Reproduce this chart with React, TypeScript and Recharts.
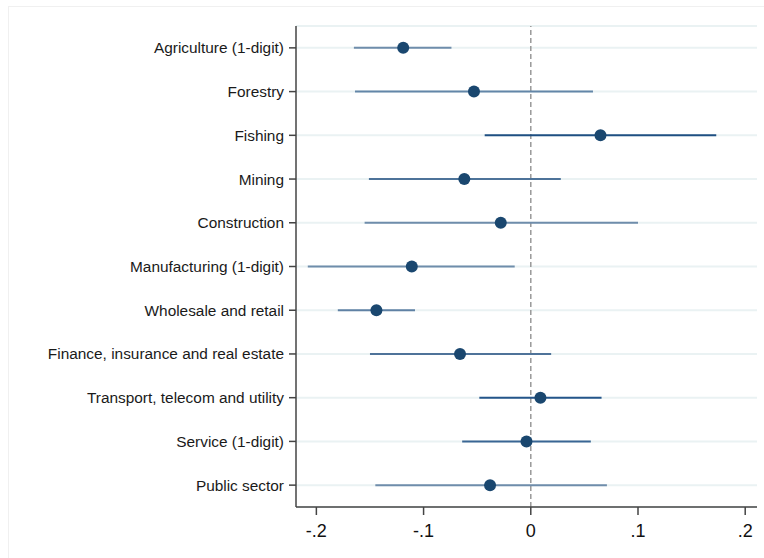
import React from "react";
import {
  ScatterChart,
  Scatter,
  XAxis,
  YAxis,
  CartesianGrid,
  ReferenceLine,
} from "recharts";

// Industry categories, top to bottom
const industries = [
  "Agriculture (1-digit)",
  "Forestry",
  "Fishing",
  "Mining",
  "Construction",
  "Manufacturing (1-digit)",
  "Wholesale and retail",
  "Finance, insurance and real estate",
  "Transport, telecom and utility",
  "Service (1-digit)",
  "Public sector",
];

// Point estimates
const estimates = [-0.119, -0.053, 0.065, -0.062, -0.028, -0.111, -0.144, -0.066, 0.009, -0.004, -0.038];

// Lower and upper confidence bounds
const lowerBounds = [-0.165, -0.164, -0.043, -0.151, -0.155, -0.208, -0.18, -0.15, -0.048, -0.064, -0.145];
const upperBounds = [-0.074, 0.058, 0.173, 0.028, 0.1, -0.015, -0.108, 0.019, 0.066, 0.056, 0.071];

const xTicks = [-0.2, -0.1, 0, 0.1, 0.2];
const xTickLabels = ["-.2", "-.1", "0", ".1", ".2"];

// Shade of each confidence interval line
const CI_COLORS = [
  "#6f8dab",
  "#6386a8",
  "#1f4f82",
  "#4d7399",
  "#6f8dab",
  "#6f8dab",
  "#5f81a4",
  "#4f7399",
  "#24558a",
  "#3a6694",
  "#6f8dab",
];

const MARKER = "#1a476f";
const FONT = "Liberation Sans, Arial, sans-serif";

const points = industries.map((name, i) => ({
  name,
  y: i + 1,
  x: estimates[i],
}));

const intervals = industries.map((_, i) => [
  { x: lowerBounds[i], y: i + 1 },
  { x: upperBounds[i], y: i + 1 },
]);

const Dot = (props: any) => {
  const { cx, cy } = props;
  if (cx == null || cy == null) return null;
  return <circle cx={cx} cy={cy} r={6} fill={MARKER} />;
};

const NoShape = () => null;

export default function App() {
  return (
    <div style={{ position: "absolute", left: 0, top: 0, width: 764, height: 558, background: "#fff" }}>
      <div
        style={{
          position: "absolute",
          left: 8,
          top: 6,
          width: 760,
          height: 560,
          border: "1px solid #f0f0f0",
          boxSizing: "border-box",
        }}
      />
      <div style={{ position: "absolute", left: 0, top: 0 }}>
        <ScatterChart
          width={764}
          height={558}
          margin={{ top: 26, right: 7, bottom: 0, left: 0 }}
        >
          <CartesianGrid
            vertical={false}
            stroke="#eaf2f3"
            strokeWidth={2}
          />
          <XAxis
            type="number"
            dataKey="x"
            domain={[-0.219, 0.211]}
            ticks={xTicks}
            tickFormatter={(v: number) => xTickLabels[xTicks.indexOf(v)] ?? String(v)}
            height={51}
            tickSize={8}
            tickMargin={9}
            stroke="#444"
            strokeWidth={1.5}
            tick={{ fill: "#111", fontSize: 18, fontFamily: FONT }}
            allowDataOverflow
          />
          <YAxis
            type="number"
            dataKey="y"
            domain={[0.5, 11.5]}
            reversed
            ticks={industries.map((_, i) => i + 1)}
            interval={0}
            tickFormatter={(v: number) => industries[v - 1] ?? ""}
            width={296}
            tickSize={7}
            tickMargin={5}
            stroke="#444"
            strokeWidth={1.5}
            tick={{ fill: "#1a1a1a", fontSize: 15.4, fontFamily: FONT }}
            allowDataOverflow
          />
          <ReferenceLine
            x={0}
            stroke="#999"
            strokeWidth={1.5}
            strokeDasharray="5 3"
          />
          {intervals.map((seg, i) => (
            <Scatter
              key={industries[i]}
              data={seg}
              line={{ stroke: CI_COLORS[i], strokeWidth: 2 }}
              shape={NoShape}
              isAnimationActive={false}
            />
          ))}
          <Scatter data={points} shape={Dot} fill={MARKER} isAnimationActive={false} />
        </ScatterChart>
      </div>
    </div>
  );
}
